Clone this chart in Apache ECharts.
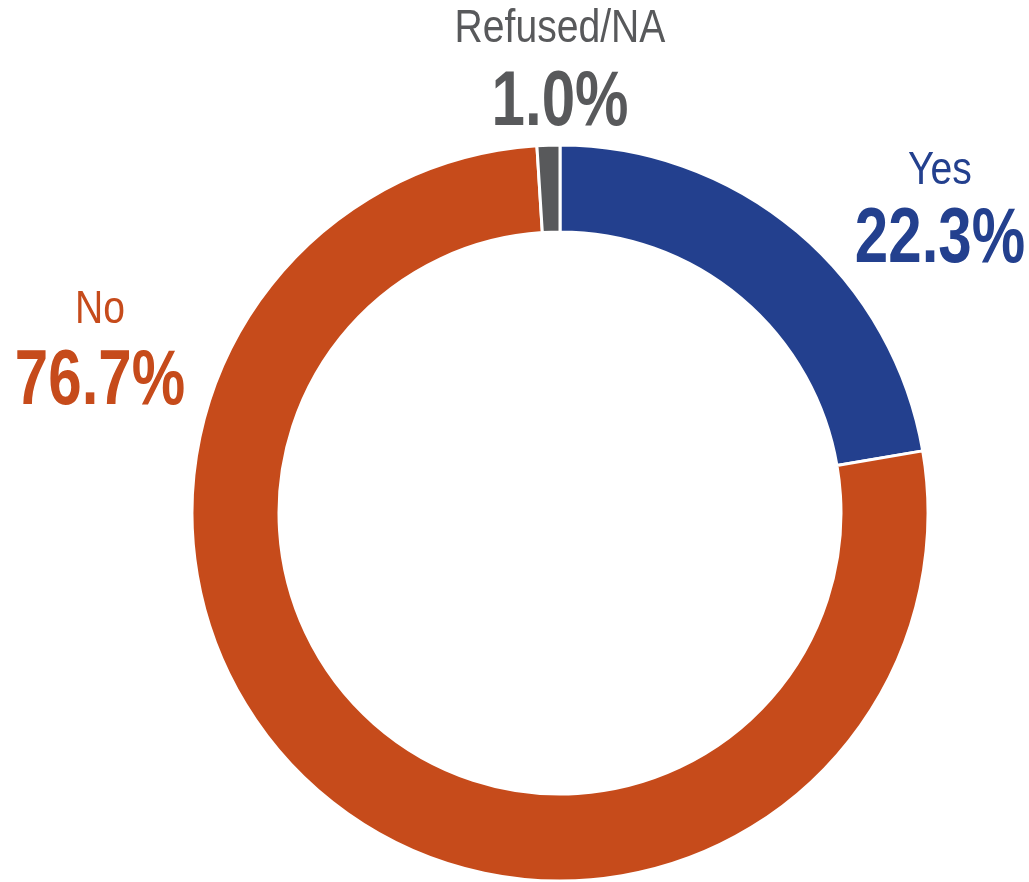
<!DOCTYPE html>
<html>
<head>
<meta charset="utf-8">
<script src="https://cdn.jsdelivr.net/npm/echarts@6/dist/echarts.min.js"></script>
<style>
  html, body { margin: 0; padding: 0; background: #ffffff; }
  #chart { width: 1029px; height: 882px; }
</style>
</head>
<body>
<div id="chart"></div>
<script>
// Survey answer shares (percent)
const categories = ['Yes', 'No', 'Refused/NA'];
const shares = [22.3, 76.7, 1.0];
const colors = ['#23408E', '#C64B1B', '#58595B'];

// Label anchors: [x, y of name line, y of percentage line]
const labelSpots = [
  [940, 171, 241],
  [100, 310, 383],
  [560, 29, 104]
];

const FONT = "'Liberation Sans', Arial, sans-serif";

const chart = echarts.init(document.getElementById('chart'), null, { renderer: 'canvas' });

// Condensed two-line labels: category name above, bold share below
const labels = [];
categories.forEach((c, i) => {
  const [x, yName, yValue] = labelSpots[i];
  labels.push({
    type: 'text', x: x, y: yName, scaleX: 0.85, silent: true,
    style: {
      text: c, fontFamily: FONT, fontSize: 46, fill: colors[i],
      align: 'center', verticalAlign: 'middle'
    }
  });
  labels.push({
    type: 'text', x: x, y: yValue, scaleX: 0.78, silent: true,
    style: {
      text: shares[i].toFixed(1) + '%', fontFamily: FONT, fontSize: 77,
      fontWeight: 'bold', fill: colors[i],
      align: 'center', verticalAlign: 'middle'
    }
  });
});

chart.setOption({
  animation: false,
  backgroundColor: '#ffffff',
  graphic: labels,
  series: [{
    type: 'pie',
    center: [560, 513],
    radius: [281, 368],
    startAngle: 90,
    clockwise: true,
    itemStyle: { borderColor: '#ffffff', borderWidth: 3 },
    label: { show: false },
    labelLine: { show: false },
    data: categories.map((c, i) => ({
      name: c,
      value: shares[i],
      itemStyle: { color: colors[i] }
    }))
  }]
});
</script>
</body>
</html>
